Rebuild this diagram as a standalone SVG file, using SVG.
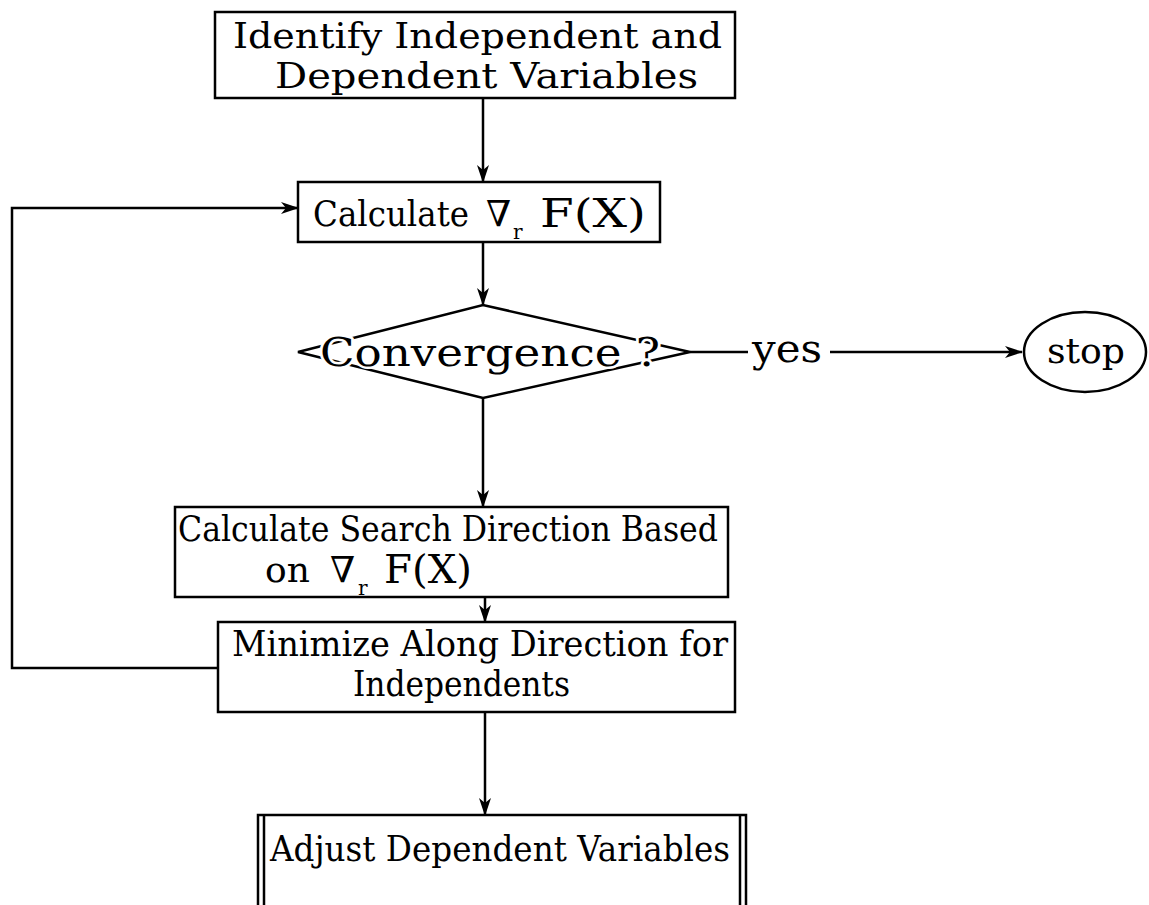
<svg xmlns="http://www.w3.org/2000/svg" width="1149" height="905" viewBox="0 0 1149 905">
<style>
.box{fill:none;stroke:#000;stroke-width:2.5}
.ln{fill:none;stroke:#000;stroke-width:2.5}
.t{font-family:"DejaVu Serif","Liberation Serif",serif;font-size:36px;fill:#000}
.s{font-size:20px}
.f{font-size:40px}
.halo{paint-order:stroke;stroke:#fff;stroke-width:5px;stroke-linejoin:round}
</style>
<defs>
<marker id="ah" viewBox="0 0 18 12" refX="17" refY="6" markerWidth="18" markerHeight="12" markerUnits="userSpaceOnUse" orient="auto">
<path d="M0,0 L18,6 L0,12 L5,6 Z" fill="#000"/>
</marker>
</defs>
<rect width="1149" height="905" fill="#fff"/>
<g id="connectors">
<line class="ln" x1="483" y1="98" x2="483" y2="182" marker-end="url(#ah)"/>
<line class="ln" x1="483" y1="242" x2="483" y2="305" marker-end="url(#ah)"/>
<line class="ln" x1="690" y1="352" x2="748" y2="352"/>
<line class="ln" x1="830" y1="352" x2="1022" y2="352" marker-end="url(#ah)"/>
<line class="ln" x1="483" y1="398" x2="483" y2="507" marker-end="url(#ah)"/>
<line class="ln" x1="485" y1="597" x2="485" y2="622" marker-end="url(#ah)"/>
<line class="ln" x1="485" y1="712" x2="485" y2="815" marker-end="url(#ah)"/>
<polyline class="ln" points="218,668 12,668 12,208 298,208" marker-end="url(#ah)"/>
<text class="t" x="752" y="362" style="font-size:39px" textLength="70" lengthAdjust="spacingAndGlyphs">yes</text>
</g>
<g id="n1">
<rect class="box" x="215" y="12" width="520" height="86"/>
<text class="t" x="233" y="48" textLength="489" lengthAdjust="spacingAndGlyphs">Identify Independent and</text>
<text class="t" x="275" y="88" textLength="423" lengthAdjust="spacingAndGlyphs">Dependent Variables</text>
</g>
<g id="n2">
<rect class="box" x="298" y="182" width="362" height="60"/>
<text class="t" x="313" y="226"><tspan textLength="156" lengthAdjust="spacingAndGlyphs">Calculate</tspan><tspan x="486">∇</tspan><tspan class="s" x="513" y="239">r</tspan><tspan class="f" x="540" y="227" textLength="106" lengthAdjust="spacingAndGlyphs">F(X)</tspan></text>
</g>
<g id="n3">
<polygon class="box" points="298,352 483,305 690,352 483,398"/>
<text class="t halo" x="320" y="366" style="font-size:40px" textLength="340" lengthAdjust="spacingAndGlyphs">Convergence ?</text>
</g>
<g id="n4">
<ellipse class="box" cx="1085" cy="352" rx="61" ry="40"/>
<text class="t" x="1047" y="363" textLength="78" lengthAdjust="spacingAndGlyphs">stop</text>
</g>
<g id="n5">
<rect class="box" x="175" y="507" width="553" height="90"/>
<text class="t" x="178" y="541" textLength="540" lengthAdjust="spacingAndGlyphs">Calculate Search Direction Based</text>
<text class="t" x="265" y="582"><tspan>on</tspan><tspan x="330">∇</tspan><tspan class="s" x="358" y="595">r</tspan><tspan class="f" x="384" y="583" textLength="88" lengthAdjust="spacingAndGlyphs">F(X)</tspan></text>
</g>
<g id="n6">
<rect class="box" x="218" y="622" width="517" height="90"/>
<text class="t" x="232" y="656" textLength="496" lengthAdjust="spacingAndGlyphs">Minimize Along Direction for</text>
<text class="t" x="353" y="696" textLength="217" lengthAdjust="spacingAndGlyphs">Independents</text>
</g>
<g id="n7">
<path class="box" d="M258,905 V815 H746 V905 M264,905 V815 M740,905 V815"/>
<text class="t" x="270" y="861" textLength="460" lengthAdjust="spacingAndGlyphs">Adjust Dependent Variables</text>
</g>
</svg>
